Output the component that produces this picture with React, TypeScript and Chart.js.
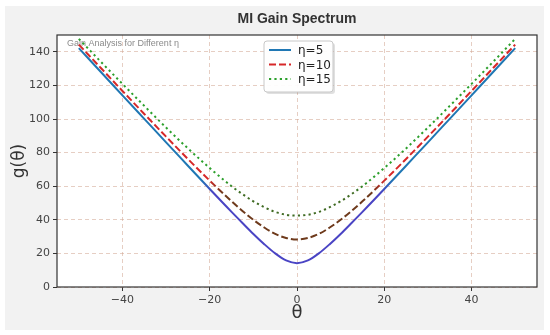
import React, { useEffect, useRef } from "react";
import { Chart, registerables } from "chart.js";

Chart.register(...registerables);

const THETA = [-50, -45, -40, -35, -30, -25, -20, -15, -12.5, -10, -7.5, -5, -2.5, 0, 2.5, 5, 7.5, 10, 12.5, 15, 20, 25, 30, 35, 40, 45, 50];
const G_ETA5 = [142.2, 128.1, 114.1, 100.1, 86.1, 72.2, 58.3, 44.7, 38.1, 31.6, 25.5, 20.0, 15.8, 14.2, 15.8, 20.0, 25.5, 31.6, 38.1, 44.7, 58.3, 72.2, 86.1, 100.1, 114.1, 128.1, 142.2];
const G_ETA10 = [144.3, 130.5, 116.7, 103.0, 89.5, 76.2, 63.3, 51.0, 45.3, 40.0, 35.4, 31.6, 29.2, 28.3, 29.2, 31.6, 35.4, 40.0, 45.3, 51.0, 63.3, 76.2, 89.5, 103.0, 116.7, 130.5, 144.3];
const G_ETA15 = [147.7, 134.2, 120.9, 107.8, 94.9, 82.5, 70.8, 60.0, 55.3, 51.0, 47.5, 44.7, 43.0, 42.5, 43.0, 44.7, 47.5, 51.0, 55.3, 60.0, 70.8, 82.5, 94.9, 107.8, 120.9, 134.2, 147.7];
const SERIES_LABELS = ["η=5", "η=10", "η=15"];
const X_TICKS = [-40, -20, 0, 20, 40];
const Y_TICKS = [0, 20, 40, 60, 80, 100, 120, 140];

const TITLE = "MI Gain Spectrum";
const NOTE = "Gain Analysis for Different η";
const X_LABEL = "θ";
const Y_LABEL = "g(θ)";

const FONT = "'DejaVu Sans', sans-serif";
const SANS = "'Liberation Sans', Arial, sans-serif";

const STYLES = [
  { top: "#1f77b4", bottom: "#4a44c4", dash: [] as number[] },
  { top: "#d62728", bottom: "#6e3a1c", dash: [7, 3] },
  { top: "#2ca02c", bottom: "#3f6a22", dash: [2.2, 3.2] },
];

function gradFor(idx: number) {
  return (ctx: any) => {
    const chart = ctx.chart;
    const st = STYLES[idx];
    if (!chart.chartArea || !chart.scales.y) return st.top;
    const y = chart.scales.y;
    const y0 = y.getPixelForValue(0);
    const y1 = y.getPixelForValue(150);
    const g = chart.ctx.createLinearGradient(0, y0, 0, y1);
    g.addColorStop(0, st.bottom);
    g.addColorStop(56 / 150, st.bottom);
    g.addColorStop(64 / 150, st.top);
    g.addColorStop(1, st.top);
    return g;
  };
}

const decorPlugin = {
  id: "decor",
  beforeDraw(chart: any) {
    const c = chart.ctx;
    c.save();
    c.fillStyle = "#ffffff";
    c.fillRect(0, 0, chart.width, chart.height);
    c.fillStyle = "#f2f2f2";
    c.fillRect(5, 6, 539, 324);
    const a = chart.chartArea;
    c.fillStyle = "#ffffff";
    c.fillRect(a.left, a.top, a.right - a.left, a.bottom - a.top);
    c.restore();
  },
  beforeDatasetsDraw(chart: any) {
    const c = chart.ctx;
    const a = chart.chartArea;
    c.save();
    c.font = `9px ${SANS}`;
    c.fillStyle = "#8a8a8a";
    c.textAlign = "left";
    c.textBaseline = "middle";
    c.fillText(NOTE, a.left + 10, a.top + 9);
    c.restore();
  },
  afterDatasetsDraw(chart: any) {
    const c = chart.ctx;
    const a = chart.chartArea;
    c.save();
    // frame
    c.strokeStyle = "#333333";
    c.lineWidth = 1.2;
    c.strokeRect(a.left, a.top, a.right - a.left, a.bottom - a.top);

    // title
    c.fillStyle = "#333333";
    c.font = `bold 14px ${SANS}`;
    c.textAlign = "center";
    c.textBaseline = "middle";
    c.fillText(TITLE, (a.left + a.right) / 2, 19);

    // axis labels
    c.font = `18px ${FONT}`;
    c.fillStyle = "#333333";
    c.fillText(X_LABEL, (a.left + a.right) / 2, 313);
    c.save();
    c.translate(20, (a.top + a.bottom) / 2);
    c.rotate(-Math.PI / 2);
    c.font = `17px ${FONT}`;
    c.fillText(Y_LABEL, 0, 0);
    c.restore();

    // legend
    const bx = 264, by = 41, bw = 69, bh = 51;
    c.fillStyle = "rgba(0,0,0,0.12)";
    c.beginPath();
    (c as any).roundRect(bx + 2, by + 2, bw, bh, 3);
    c.fill();
    c.fillStyle = "rgba(255,255,255,0.95)";
    c.strokeStyle = "#c8c8c8";
    c.lineWidth = 1;
    c.beginPath();
    (c as any).roundRect(bx, by, bw, bh, 3);
    c.fill();
    c.stroke();
    c.font = `12px ${FONT}`;
    c.textAlign = "left";
    c.textBaseline = "middle";
    for (let i = 0; i < 3; i++) {
      const ry = by + 9 + i * 14.5;
      c.strokeStyle = STYLES[i].top;
      c.lineWidth = 2;
      c.setLineDash(STYLES[i].dash);
      c.beginPath();
      c.moveTo(bx + 5, ry);
      c.lineTo(bx + 27, ry);
      c.stroke();
      c.setLineDash([]);
      c.fillStyle = "#222222";
      c.fillText(SERIES_LABELS[i], bx + 34, ry + 1);
    }
    c.restore();
  },
};

export default function App() {
  const ref = useRef<HTMLCanvasElement | null>(null);
  useEffect(() => {
    document.body.style.margin = "0";
    const canvas = ref.current!;
    const seriesVals = [G_ETA5, G_ETA10, G_ETA15];
    const gridColor = "rgba(210,165,145,0.55)";
    const chart = new Chart(canvas, {
      type: "line",
      data: {
        datasets: seriesVals.map((vals, i) => ({
          label: SERIES_LABELS[i],
          data: THETA.map((t, j) => ({ x: t, y: vals[j] })),
          borderColor: gradFor(i),
          borderWidth: 2,
          borderDash: STYLES[i].dash,
          pointRadius: 0,
          fill: false,
          cubicInterpolationMode: "monotone",
          order: 2 - i,
        })),
      },
      options: {
        animation: false,
        responsive: false,
        layout: { padding: { left: 0, right: 13, top: 35, bottom: 0 } },
        plugins: {
          legend: { display: false },
          title: { display: false },
          tooltip: { enabled: false },
        },
        scales: {
          x: {
            type: "linear",
            min: -55,
            max: 55,
            afterBuildTicks: (s: any) => {
              s.ticks = X_TICKS.map((v) => ({ value: v }));
            },
            afterFit: (s: any) => {
              s.height = 48;
            },
            grid: {
              color: gridColor,
              lineWidth: 1,
              tickLength: 4,
              tickColor: "#333333",
              tickBorderDash: [],
              drawTicks: true,
            },
            border: { display: false, dash: [4, 3] },
            ticks: {
              font: { family: FONT, size: 11 },
              color: "#444444",
              padding: 3,
              maxRotation: 0,
              callback: (v: any) => (v < 0 ? "\u2212" + Math.abs(v) : String(v)),
            },
          },
          y: {
            type: "linear",
            min: 0,
            max: 150,
            afterBuildTicks: (s: any) => {
              s.ticks = Y_TICKS.map((v) => ({ value: v }));
            },
            afterFit: (s: any) => {
              s.width = 57;
            },
            grid: {
              color: gridColor,
              lineWidth: 1,
              tickLength: 4,
              tickColor: "#333333",
              tickBorderDash: [],
            },
            border: { display: false, dash: [4, 3] },
            ticks: {
              font: { family: FONT, size: 11 },
              color: "#444444",
              padding: 3,
            },
          },
        },
      } as any,
      plugins: [decorPlugin],
    });
    return () => chart.destroy();
  }, []);
  return <canvas ref={ref} width={550} height={335} style={{ display: "block", width: 550, height: 335 }} />;
}
